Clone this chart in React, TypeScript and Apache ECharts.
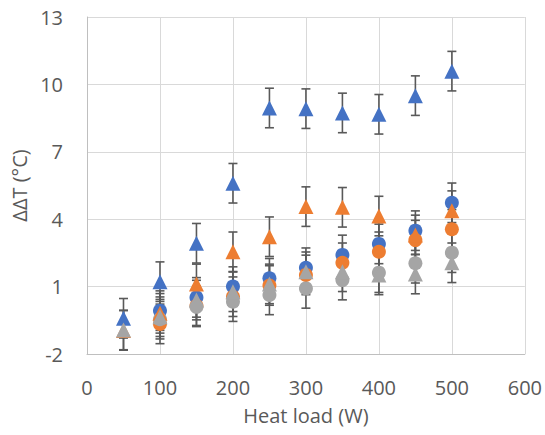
import React, { useEffect, useRef } from "react";
import * as echarts from "echarts";

const xTri = [50, 100, 150, 200, 250, 300, 350, 400, 450, 500];
const xCirc = [100, 150, 200, 250, 300, 350, 400, 450, 500];

const blueTri = [-0.41, 1.22, 2.93, 5.6, 8.95, 8.92, 8.73, 8.67, 9.5, 10.59];
const orangeTri = [-0.95, -0.19, 1.12, 2.55, 3.22, 4.56, 4.53, 4.14, 3.3, 4.38];
const grayTri = [-0.93, -0.34, 0.4, 0.77, 1.12, 1.66, 1.66, 1.52, 1.56, 2.06];

const blueCirc = [-0.07, 0.52, 1.0, 1.37, 1.84, 2.41, 2.9, 3.49, 4.73];
const orangeCirc = [-0.66, 0.15, 0.55, 1.05, 1.52, 2.06, 2.55, 3.07, 3.55];
const grayCirc = [-0.45, 0.1, 0.33, 0.63, 0.92, 1.29, 1.62, 2.04, 2.51];

const errTri = [0.88, 0.88, 0.88, 0.88, 0.88, 0.88, 0.88, 0.88, 0.88, 0.88];
const errCirc = [0.88, 0.88, 0.88, 0.88, 0.88, 0.88, 0.88, 0.88, 0.88];

const BLUE = "#4472C4";
const ORANGE = "#ED7D31";
const GRAY = "#A5A5A5";
const FONT = "Open Sans";

type S = { name: string; xs: number[]; ys: number[]; errs: number[]; color: string; symbol: string; size: number };

const seriesDefs: S[] = [
  { name: "Blue circles", xs: xCirc, ys: blueCirc, errs: errCirc, color: BLUE, symbol: "circle", size: 14 },
  { name: "Orange circles", xs: xCirc, ys: orangeCirc, errs: errCirc, color: ORANGE, symbol: "circle", size: 14 },
  { name: "Gray circles", xs: xCirc, ys: grayCirc, errs: errCirc, color: GRAY, symbol: "circle", size: 14 },
  { name: "Blue triangles", xs: xTri, ys: blueTri, errs: errTri, color: BLUE, symbol: "triangle", size: 15 },
  { name: "Orange triangles", xs: xTri, ys: orangeTri, errs: errTri, color: ORANGE, symbol: "triangle", size: 15 },
  { name: "Gray triangles", xs: xTri, ys: grayTri, errs: errTri, color: GRAY, symbol: "triangle", size: 15 },
];

export default function App() {
  const ref = useRef<HTMLDivElement>(null);
  useEffect(() => {
    if (!ref.current) return;
    const chart = echarts.init(ref.current, null, { renderer: "svg" });
    const series: any[] = [];
    seriesDefs.forEach((d) => {
      series.push({
        type: "custom",
        name: d.name + " err",
        z: 1,
        silent: true,
        data: d.xs.map((x, i) => [x, d.ys[i], d.errs[i]]),
        renderItem: (params: any, api: any) => {
          const x = api.value(0);
          const y = api.value(1);
          const e = api.value(2);
          const top = api.coord([x, y + e]);
          const bot = api.coord([x, y - e]);
          const cap = 4.5;
          const style = { stroke: "#595959", lineWidth: 1.6 };
          return {
            type: "group",
            children: [
              { type: "line", shape: { x1: top[0], y1: top[1], x2: bot[0], y2: bot[1] }, style },
              { type: "line", shape: { x1: top[0] - cap, y1: top[1], x2: top[0] + cap, y2: top[1] }, style },
              { type: "line", shape: { x1: bot[0] - cap, y1: bot[1], x2: bot[0] + cap, y2: bot[1] }, style },
            ],
          };
        },
      });
    });
    seriesDefs.forEach((d) => {
      series.push({
        type: "scatter",
        name: d.name,
        z: 2,
        symbol: d.symbol,
        symbolSize: d.size,
        itemStyle: { color: d.color, opacity: 1 },
        data: d.xs.map((x, i) => [x, d.ys[i]]),
      });
    });
    chart.setOption({
      animation: false,
      backgroundColor: "#ffffff",
      grid: { left: 87, right: 20, top: 17, bottom: 81, containLabel: false },
      xAxis: {
        type: "value",
        min: 0,
        max: 600,
        interval: 100,
        name: "Heat load (W)",
        nameLocation: "middle",
        nameGap: 51,
        nameTextStyle: { color: "#595959", fontSize: 20, fontFamily: FONT },
        axisLine: { show: true, onZero: false, lineStyle: { color: "#BFBFBF", width: 1 } },
        axisTick: { show: false },
        axisLabel: { color: "#595959", fontSize: 20, fontFamily: FONT, margin: 23 },
        splitLine: { show: true, lineStyle: { color: "#D9D9D9", width: 1 } },
      },
      yAxis: {
        type: "value",
        min: -2,
        max: 13,
        interval: 3,
        name: "ΔΔT (°C)",
        nameLocation: "middle",
        nameGap: 55,
        nameTextStyle: { color: "#595959", fontSize: 20, fontFamily: FONT },
        axisLine: { show: true, onZero: false, lineStyle: { color: "#BFBFBF", width: 1 } },
        axisTick: { show: false },
        axisLabel: { color: "#595959", fontSize: 20, fontFamily: FONT, margin: 24 },
        splitLine: { show: true, lineStyle: { color: "#D9D9D9", width: 1 } },
      },
      series,
    });
    return () => chart.dispose();
  }, []);
  return <div ref={ref} style={{ position: "absolute", left: 0, top: 0, width: 545, height: 435 }} />;
}
